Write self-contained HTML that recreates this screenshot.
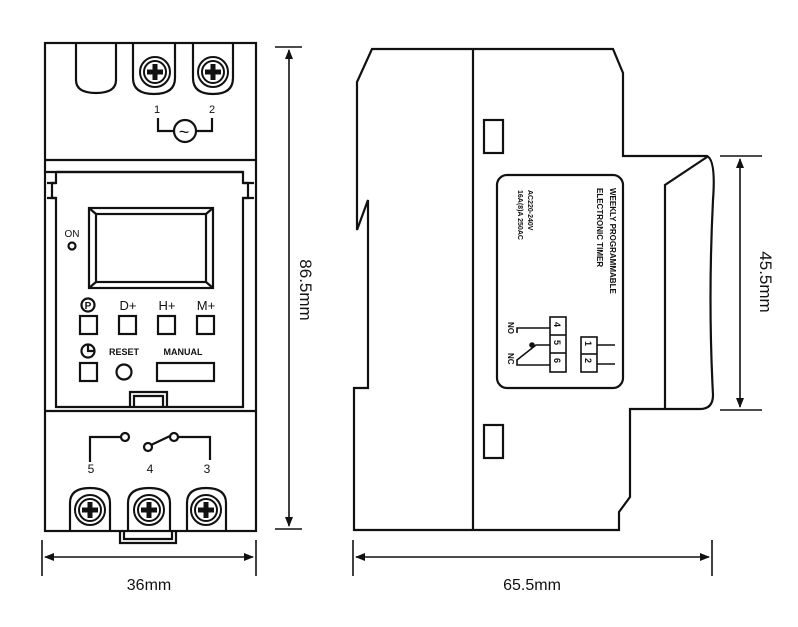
<!DOCTYPE html>
<html><head><meta charset="utf-8"><style>
html,body{margin:0;padding:0;background:#fff;}
svg{display:block;}
text{font-family:"Liberation Sans",sans-serif;fill:#111;}
</style></head><body>
<svg width="798" height="627" viewBox="0 0 798 627" xmlns="http://www.w3.org/2000/svg">
<defs>
<marker id="ar" viewBox="0 0 10 10" refX="9" refY="5" markerWidth="10" markerHeight="10" orient="auto-start-reverse" markerUnits="userSpaceOnUse"><path d="M0,1 L10,5 L0,9 z" fill="#111"/></marker>
<g id="screw"><circle r="15" fill="#fff" stroke="#111" stroke-width="2"/><circle r="11" fill="none" stroke="#111" stroke-width="2"/><rect x="-8" y="-2.5" width="16" height="5" fill="#111"/><rect x="-2.5" y="-8" width="5" height="16" fill="#111"/></g>
</defs>
<g fill="none" stroke="#111" stroke-width="2.2">
<rect x="45" y="43" width="211" height="488"/>
<line x1="45" y1="160" x2="256" y2="160"/>
<line x1="45" y1="411" x2="256" y2="411"/>
<path d="M76 43 V80 Q76 93 96 93 Q116 93 116 80 V43"/>
<path d="M133 43 V78 Q133 94 154 94 Q175 94 175 78 V43"/>
<path d="M193 43 V78 Q193 94 213 94 Q233 94 233 78 V43"/>
<path d="M45 172 H56 V183 H52 V198 H56 V407 H243 V198 H248 V183 H243 V172 H56"/>
<line x1="56" y1="172" x2="243" y2="172"/>
<path d="M47 183 H56 M47 198 H56 M243 183 H254 M243 198 H254"/>
<rect x="89" y="208" width="124" height="80"/>
<rect x="96" y="214" width="110" height="68"/>
<line x1="89" y1="208" x2="96" y2="214"/><line x1="213" y1="208" x2="206" y2="214"/>
<line x1="89" y1="288" x2="96" y2="282"/><line x1="213" y1="288" x2="206" y2="282"/>
<circle cx="72" cy="246" r="3.5"/>
<rect x="80" y="316" width="17" height="18"/>
<rect x="119" y="316" width="17" height="18"/>
<rect x="158" y="316" width="17" height="18"/>
<rect x="197" y="316" width="17" height="18"/>
<rect x="80" y="363" width="17" height="18"/>
<circle cx="124" cy="372" r="7.5"/>
<rect x="157" y="363" width="57" height="18"/>
<circle cx="88" cy="305" r="6.5"/>
<circle cx="88" cy="351" r="6.5"/>
<path d="M88 345 V351 H94"/>
<path d="M130 407 V392 H167 V407 M134 407 V396 H163 V407"/>
<path d="M90 462 V437 H121"/><circle cx="125" cy="437" r="4"/>
<circle cx="148" cy="447" r="4"/><line x1="151" y1="445" x2="170" y2="436"/>
<circle cx="174" cy="437" r="4"/><path d="M178 437 H210 V460"/>
<path d="M70 531 V503 Q70 488 90 488 Q110 488 110 503 V531"/>
<path d="M128 531 V503 Q128 488 149 488 Q170 488 170 503 V531"/>
<path d="M187 531 V503 Q187 488 206 488 Q226 488 226 503 V531"/>
<path d="M120 531 V543 H176 V531 M124 531 V539 H172 V531"/>
<path d="M158 118 V131 H174 M196 131 H212 V118"/>
<circle cx="185" cy="131" r="11"/>
<path d="M372 49 H613 L623 73 V156 H707 Q716 160 713 200 Q708 300 713 395 Q713 409 700 409 H630 V497 L619 512 V530 H354 V388 H368 V200 L357 230 V82 Z"/>
<line x1="473" y1="49" x2="473" y2="530"/>
<path d="M665 409 V185 L707 157"/>
<rect x="484" y="120" width="19" height="33"/>
<rect x="484" y="425" width="19" height="33"/>
<rect x="497" y="175" width="126" height="213" rx="10"/>
<g stroke-width="1.6">
<rect x="550" y="317" width="16" height="55"/>
<line x1="550" y1="335" x2="566" y2="335"/><line x1="550" y1="353" x2="566" y2="353"/>
<rect x="581" y="337" width="16" height="35"/>
<line x1="581" y1="354" x2="597" y2="354"/>
<path d="M597 345 H615 M597 364 H615"/>
<path d="M550 328 H517 V333"/>
<path d="M550 345 L536 345 L517 360 V365 H550"/>
<circle cx="532" cy="345" r="2" fill="#111"/>
</g>
<g stroke-width="1.6">
<line x1="275" y1="47" x2="302" y2="47"/><line x1="275" y1="529" x2="302" y2="529"/>
<line x1="289" y1="50" x2="289" y2="526" marker-start="url(#ar)" marker-end="url(#ar)"/>
<line x1="42" y1="540" x2="42" y2="576"/><line x1="256" y1="540" x2="256" y2="576"/>
<line x1="45" y1="557" x2="253" y2="557" marker-start="url(#ar)" marker-end="url(#ar)"/>
<line x1="353" y1="540" x2="353" y2="576"/><line x1="712" y1="540" x2="712" y2="576"/>
<line x1="356" y1="557" x2="709" y2="557" marker-start="url(#ar)" marker-end="url(#ar)"/>
<line x1="720" y1="156" x2="762" y2="156"/><line x1="720" y1="410" x2="762" y2="410"/>
<line x1="740" y1="159" x2="740" y2="407" marker-start="url(#ar)" marker-end="url(#ar)"/>
</g>
</g>
<use href="#screw" x="155" y="72"/>
<use href="#screw" x="213" y="72"/>
<use href="#screw" x="90" y="510"/>
<use href="#screw" x="149" y="510"/>
<use href="#screw" x="206" y="510"/>
<g font-size="11" text-anchor="middle">
<text x="157" y="113">1</text><text x="212" y="113">2</text>
<text x="184" y="138" font-size="18">~</text>
<text x="72" y="237" font-size="10">ON</text>
<text x="88" y="309" font-size="10" font-weight="bold">P</text>
<text x="128" y="310" font-size="13">D+</text>
<text x="167" y="310" font-size="13">H+</text>
<text x="206" y="310" font-size="13">M+</text>
<text x="124" y="355" font-size="9" font-weight="bold">RESET</text>
<text x="183" y="355" font-size="9" font-weight="bold">MANUAL</text>
<text x="91" y="473" font-size="12">5</text><text x="150" y="473" font-size="12">4</text><text x="207" y="473" font-size="12">3</text>
<text x="149" y="590" font-size="16">36mm</text>
<text x="532" y="590" font-size="16">65.5mm</text>
</g>
<text x="0" y="0" font-size="17" text-anchor="middle" transform="translate(300,290) rotate(90)">86.5mm</text>
<text x="0" y="0" font-size="17" text-anchor="middle" transform="translate(760,282) rotate(90)">45.5mm</text>
<g font-size="8" font-weight="bold">
<text transform="translate(610,188) rotate(90)">WEEKLY PROGRAMMABLE</text>
<text transform="translate(597,188) rotate(90)">ELECTRONIC TIMER</text>
<text transform="translate(528,190) rotate(90)" font-size="7">AC220-240V</text>
<text transform="translate(518,190) rotate(90)" font-size="7">16A(8)A 250AC</text>
<text transform="translate(554,322) rotate(90)" font-size="9">4</text>
<text transform="translate(554,340) rotate(90)" font-size="9">5</text>
<text transform="translate(554,358) rotate(90)" font-size="9">6</text>
<text transform="translate(585,341) rotate(90)" font-size="9">1</text>
<text transform="translate(585,358) rotate(90)" font-size="9">2</text>
<text transform="translate(508,322) rotate(90)">NO</text>
<text transform="translate(508,353) rotate(90)">NC</text>
</g>
</svg>
</body></html>
